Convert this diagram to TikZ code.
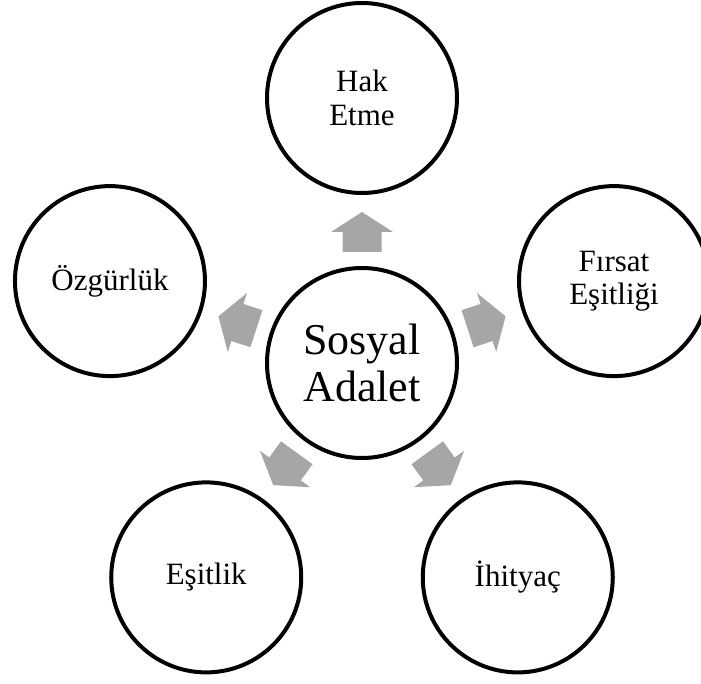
\documentclass[tikz,border=0pt]{standalone}
\usepackage{fontspec}
\setmainfont{Liberation Serif}
\definecolor{arrowFill}{HTML}{A6A6A6}
\begin{document}
\begin{tikzpicture}[x=0.5pt, y=0.5pt,
            bubble/.style={circle, draw, line width=2pt, minimum size=95pt, inner sep=0pt, align=center, font=\fontsize{15.5}{16.8}\selectfont},
            bubbleBig/.style={bubble, font=\fontsize{22}{23.3}\selectfont},
            arrowGray/.style={fill=arrowFill}]
            
            \useasboundingbox (-362,-321) rectangle (339,363);
            
            \node[bubbleBig] (S) at (0,0) {Sosyal\\Adalet};
            \node[bubble] (H) at (90:265) {Hak\\Etme};
            \node[bubble] (F) at (18:265) {Fırsat\\Eşitliği};
            \node[bubble] (I) at (-54:265) {İhityaç};
            \node[bubble] (E) at (-126:265) {Eşitlik};
            \node[bubble] (O) at (162:265) {Özgürlük};
            
            % block arrows pointing out of the centre
            \foreach \a in {90,18,-54,-126,162}
                \fill[arrowGray, shift={(S.center)}, rotate=\a] (111,-19.5) -- (131,-19.5) -- (131,-31) -- (151,0) -- (131,31) -- (131,19.5) -- (111,19.5) -- cycle;
        
        \end{tikzpicture}
\end{document}
